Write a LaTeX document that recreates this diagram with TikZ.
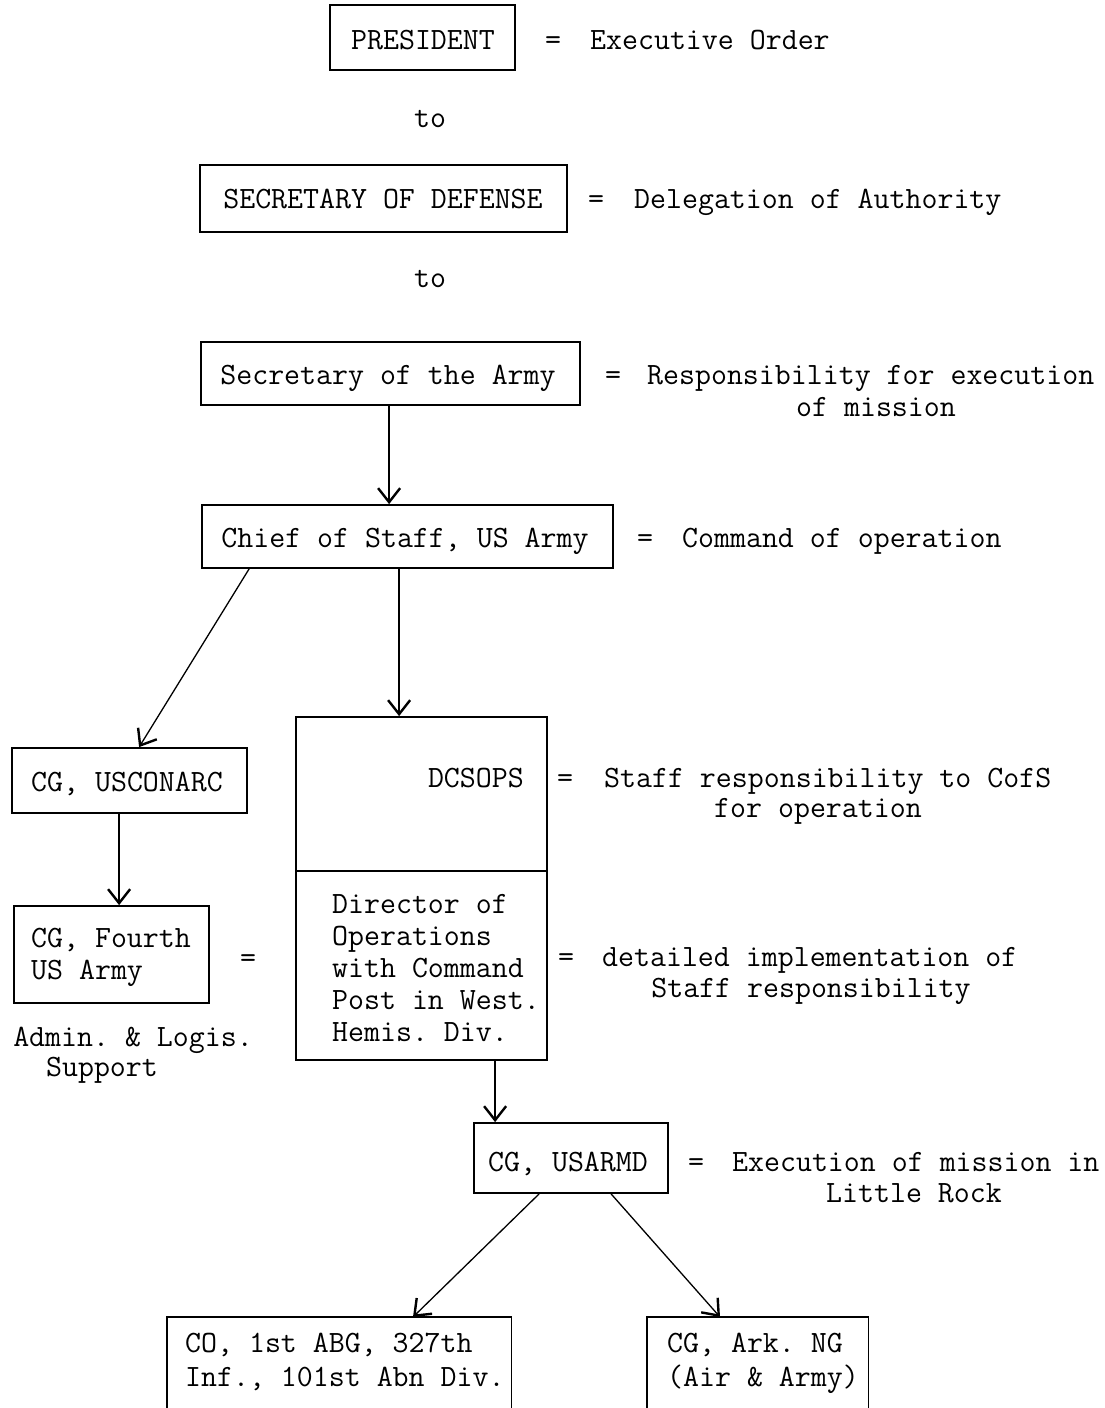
\documentclass[tikz,border=0pt]{standalone}
\usepackage{fontspec}
\usetikzlibrary{arrows.meta,calc}
\begin{document}
\frenchspacing
\begin{tikzpicture}[x=1pt,y=-1pt,
  every node/.style={font=\ttfamily\fontsize{31}{32}\selectfont, inner sep=0pt},
  frame/.style={draw, line width=1.8pt, inner sep=0pt},
  openframe/.style={inner sep=0pt},
  conn/.style={line width=1.3pt, -{Straight Barb[length=14pt,width=22pt,line width=2.4pt]}},
  txt/.style={anchor=base},
  txtl/.style={anchor=base west},
  txtr/.style={anchor=base east}]
\useasboundingbox (0,0) rectangle (1104,1408);

% ---------- boxes ----------
\node[frame, minimum width=185, minimum height=65] (pres) at (422.5,37.5) {};
\node[frame, minimum width=367, minimum height=67] (secdef) at (383.5,198.5) {};
\node[frame, minimum width=379, minimum height=63] (army) at (390.5,373.5) {};
\node[frame, minimum width=411, minimum height=63] (chief) at (407.5,536.5) {};
\node[frame, minimum width=235, minimum height=65] (conarc) at (129.5,780.5) {};
\node[frame, minimum width=195, minimum height=97] (fourth) at (111.5,954.5) {};
\node[frame, minimum width=251, minimum height=154] (dcsops) at (421.5,794) {};
\node[frame, minimum width=251, minimum height=189] (director) at (421.5,965.5) {};
\node[frame, minimum width=194, minimum height=70] (usarmd) at (571,1158) {};
\node[openframe, minimum width=344, minimum height=91, anchor=north west] (co) at (167,1317) {};
\node[openframe, minimum width=221, minimum height=91, anchor=north west] (ark) at (647,1317) {};
\draw[line width=1.8pt] (co.south west) -- (co.north west) -- (co.north east) -- (co.south east);
\draw[line width=1.8pt] (ark.south west) -- (ark.north west) -- (ark.north east) -- (ark.south east);

% ---------- box texts ----------
\node[txt] (presT) at (423,49) {PRESIDENT};
\node[txt] (secdefT) at (383,208) {SECRETARY OF DEFENSE};
\node[txt] (armyT) at (388,384) {Secretary of the Army};
\node[txt] (chiefT) at (405,547) {Chief of Staff, US Army};
\node[txt] (conarcT) at (127,791) {CG, USCONARC};
\node[txtl] (fourthA) at (31,947) {CG, Fourth};
\node[txtl] (fourthB) at (31,979) {US Army};
\node[txtr] (dcsopsT) at (524,787) {DCSOPS};
\node[txtl] (dir1) at (332,913) {Director of};
\node[txtl] (dir2) at (332,945) {Operations};
\node[txtl] (dir3) at (332,977) {with Command};
\node[txtl] (dir4) at (332,1009) {Post in West.};
\node[txtl] (dir5) at (332,1041) {Hemis. Div.};
\node[txt] (usarmdT) at (568,1171) {CG, USARMD};
\node[txtl] (coA) at (185,1352) {CO, 1st ABG, 327th};
\node[txtl] (coB) at (185,1386) {Inf., 101st Abn Div.};
\node[txtl] (arkA) at (667,1352) {CG, Ark. NG};
\node[txtl] (arkB) at (667,1386) {(Air \& Army)};

% ---------- "to" ----------
\node[txt] (to1) at (430,127) {to};
\node[txt] (to2) at (430,287) {to};

% ---------- explanations ----------
\node[txt] (eq1) at (553,49) {=};
\node[txtl] (ex1) at (590,49) {Executive Order};
\node[txt] (eq2) at (596,208) {=};
\node[txtl] (ex2) at (634,208) {Delegation of Authority};
\node[txt] (eq3) at (613,384) {=};
\node[txtl] (ex3) at (647,384) {Responsibility for execution};
\node[txt] (ex3b) at (876,416) {of mission};
\node[txt] (eq4) at (645,547) {=};
\node[txtl] (ex4) at (682,547) {Command of operation};
\node[txt] (eq5) at (565,787) {=};
\node[txtl] (ex5) at (604,787) {Staff responsibility to CofS};
\node[txt] (ex5b) at (818,817) {for operation};
\node[txt] (eq6) at (566,966) {=};
\node[txtl] (ex6) at (602,966) {detailed implementation of};
\node[txt] (ex6b) at (811,997) {Staff responsibility};
\node[txt] (eq7) at (248,967) {=};
\node[txt] (ex7) at (133,1046) {Admin. \& Logis.};
\node[txt] (ex7b) at (102,1076) {Support};
\node[txt] (eq8) at (696,1171) {=};
\node[txtl] (ex8) at (732,1171) {Execution of mission in};
\node[txt] (ex8b) at (914,1202) {Little Rock};

% ---------- connector end points ----------
\coordinate (a1) at ($(army.south west)+(189,0)$);
\coordinate (c1) at ($(chief.south west)+(48,0)$);
\coordinate (c2) at ($(chief.south west)+(198,0)$);
\coordinate (u1) at ($(conarc.south west)+(108,0)$);
\coordinate (d1) at ($(director.south west)+(200,0)$);
\coordinate (m1) at ($(usarmd.south west)+(66,0)$);
\coordinate (m2) at ($(usarmd.south west)+(138,0)$);
\coordinate (t1) at ($(conarc.north west)+(128,0)$);
\coordinate (t2) at ($(co.north west)+(246,0)$);
\coordinate (t3) at ($(ark.north west)+(73,0)$);

% ---------- connectors ----------
\draw[conn] (a1) -- (a1 |- chief.north);
\draw[conn] (c1) -- (t1);
\draw[conn] (c2) -- (c2 |- dcsops.north);
\draw[conn] (u1) -- (u1 |- fourth.north);
\draw[conn] (d1) -- (d1 |- usarmd.north);
\draw[conn] (m1) -- (t2);
\draw[conn] (m2) -- (t3);
\end{tikzpicture}
\end{document}
